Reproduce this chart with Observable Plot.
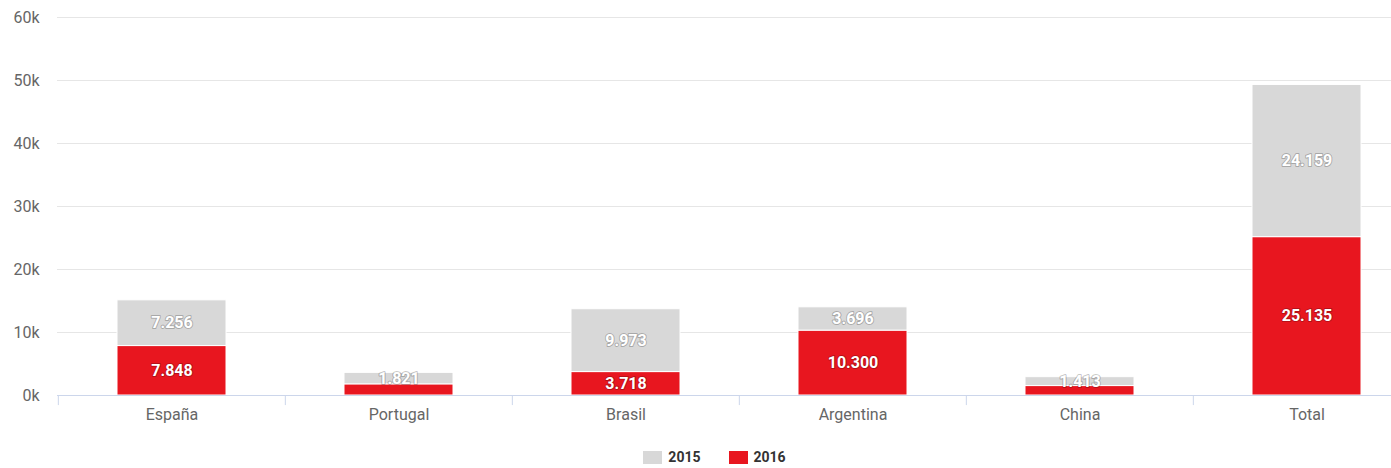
<!DOCTYPE html>
<html>
<head>
<meta charset="utf-8">
<script src="https://cdn.jsdelivr.net/npm/d3@7"></script>
<script src="https://cdn.jsdelivr.net/npm/@observablehq/plot@0.6"></script>
<style>
  html, body { margin: 0; padding: 0; background: #fff; font-family: Roboto, sans-serif; }
  #legend { display: flex; justify-content: center; align-items: center; margin-top: 9px; padding-left: 38px; font: bold 14px Roboto, sans-serif; color: #333; }
  .item { display: flex; align-items: center; margin: 0 14px; }
  .sw { width: 19px; height: 13px; margin-right: 6px; }
</style>
</head>
<body>
<div id="chart"></div>
<div id="legend"></div>
<script>
const categories = ["España", "Portugal", "Brasil", "Argentina", "China", "Total"];
const years = ["2016", "2015"];
const values2015 = [7256, 1821, 9973, 3696, 1413, 24159];
const values2016 = [7848, 1770, 3718, 10300, 1499, 25135];
const yTicks = [0, 10000, 20000, 30000, 40000, 50000, 60000];
const colors = {"2015": "#d8d8d8", "2016": "#e8161f"};

const rows = [];
categories.forEach((c, i) => rows.push({cat: c, year: "2016", value: values2016[i]}));
categories.forEach((c, i) => rows.push({cat: c, year: "2015", value: values2015[i]}));

const fmt = d3.formatLocale({decimal: ",", thousands: ".", grouping: [3], currency: ["", ""]}).format(",");

const W = 1391, H = 440;
const mL = 57, xEnd = 1421;
const step = (xEnd - mL) / categories.length;

const chart = Plot.plot({
  width: W,
  height: H,
  marginLeft: mL,
  marginRight: 0,
  marginTop: 17,
  marginBottom: 45,
  style: {fontFamily: "Roboto, sans-serif", background: "#fff"},
  x: {domain: categories, range: [mL, xEnd], paddingInner: 0.52, paddingOuter: 0.26, align: 0.5, label: null},
  y: {domain: [0, 60000], label: null},
  color: {domain: ["2015", "2016"], range: [colors["2015"], colors["2016"]]},
  marks: [
    Plot.ruleY(yTicks.filter(d => d > 0), {stroke: "#e6e6e6", strokeWidth: 1}),
    Plot.barY(rows, Plot.stackY({x: "cat", y: "value", z: "year", fill: "year", stroke: "#fff", strokeWidth: 1})),
    Plot.ruleY([0], {stroke: "#ccd6eb", strokeWidth: 1}),
    Plot.ruleX(categories, {x: d => d, y1: 0, y2: -1600, dx: -step / 2, stroke: "#ccd6eb", strokeWidth: 1}),
    Plot.text(rows, Plot.stackY({
      x: "cat", y: "value", z: "year",
      text: d => (d.year === "2016" && d.value < 2000) ? "" : fmt(d.value),
      fill: "#fff", stroke: "#000", strokeOpacity: 0.22, strokeWidth: 2,
      fontSize: 16, fontWeight: "bold"
    })),
    Plot.axisY(yTicks, {tickSize: 0, tickPadding: 18, tickFormat: d => (d / 1000) + "k", fontSize: 16, fill: "#666", label: null}),
    Plot.axisX({tickSize: 0, tickPadding: 13, fontSize: 16, fill: "#666", label: null})
  ]
});
document.getElementById("chart").appendChild(chart);

const legend = document.getElementById("legend");
["2015", "2016"].forEach(y => {
  const it = document.createElement("div");
  it.className = "item";
  const sw = document.createElement("span");
  sw.className = "sw";
  sw.style.background = colors[y];
  const t = document.createElement("span");
  t.textContent = y;
  it.appendChild(sw); it.appendChild(t);
  legend.appendChild(it);
});
</script>
</body>
</html>
